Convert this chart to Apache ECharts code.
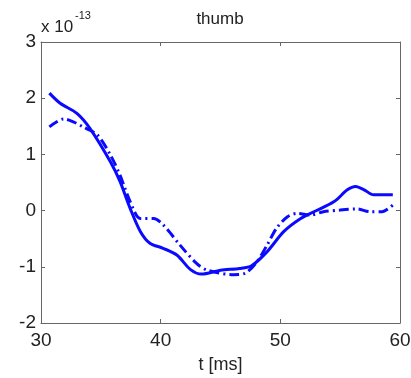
<!DOCTYPE html>
<html>
<head>
<meta charset="utf-8">
<script src="https://cdn.jsdelivr.net/npm/echarts@6/dist/echarts.min.js"></script>
<style>
  html, body { margin: 0; padding: 0; background: #fff; }
  #chart { width: 411px; height: 378px; }
</style>
</head>
<body>
<div id="chart"></div>
<script>
// Signal amplitude (units of 1e-13) against time in ms
const solidT = [30.7, 31.6, 33.0, 34.1, 35.8, 36.6, 37.45, 38.3, 39.1, 40.2, 41.35, 42.5, 43.4, 45.0, 46.6, 47.6, 48.9, 50.3, 51.7, 52.8, 54.5, 55.6, 56.3, 57.0, 57.8, 59.4];
const solidV = [2.09, 1.91, 1.73, 1.46, 0.87, 0.52, 0.04, -0.37, -0.58, -0.67, -0.79, -1.05, -1.13, -1.06, -1.03, -0.98, -0.73, -0.37, -0.14, -0.02, 0.16, 0.37, 0.43, 0.37, 0.28, 0.28];

const dashT = [30.7, 31.9, 32.7, 33.5, 34.7, 35.8, 36.6, 37.45, 38.3, 39.4, 40.2, 41.6, 43.0, 43.9, 46.1, 47.1, 48.05, 48.9, 49.7, 50.6, 51.4, 52.5, 53.6, 55.0, 56.4, 57.5, 58.5, 59.4];
const dashV = [1.49, 1.63, 1.58, 1.49, 1.35, 0.99, 0.63, 0.16, -0.14, -0.14, -0.25, -0.61, -0.94, -1.06, -1.14, -1.11, -0.91, -0.61, -0.31, -0.11, -0.05, -0.08, -0.02, 0.01, 0.03, -0.02, -0.02, 0.10];

const xTicks = [30, 40, 50, 60];
const yTicks = [-2, -1, 0, 1, 2, 3];

const titleText = 'thumb';
const xLabel = 't [ms]';
const scaleBase = 'x 10';
const scaleExp = '-13';

const pair = (ts, vs) => ts.map((t, i) => [t, vs[i]]);

const font = 'Liberation Sans, Arial, sans-serif';
const axisCol = '#666';
const textCol = '#222';
const lineCol = '#0a0aff';

const chart = echarts.init(document.getElementById('chart'));

const baseAxisLine = { show: true, onZero: false, lineStyle: { color: axisCol, width: 1 } };
const tickIn = { show: true, inside: true, length: 4, lineStyle: { color: axisCol } };

chart.setOption({
  animation: false,
  backgroundColor: '#fff',
  grid: { left: 41, right: 11, top: 42, bottom: 55, containLabel: false, outerBoundsMode: 'none' },
  xAxis: [
    {
      type: 'value', position: 'bottom',
      min: xTicks[0], max: xTicks[xTicks.length - 1], interval: 10,
      axisLine: baseAxisLine, axisTick: tickIn, splitLine: { show: false },
      axisLabel: { fontFamily: font, fontSize: 19, color: textCol, margin: 8 },
      name: xLabel, nameLocation: 'middle', nameGap: 33,
      nameTextStyle: { fontFamily: font, fontSize: 18, color: textCol }
    },
    {
      type: 'value', position: 'top',
      min: xTicks[0], max: xTicks[xTicks.length - 1], interval: 10,
      axisLine: baseAxisLine, axisTick: tickIn, splitLine: { show: false },
      axisLabel: { show: false }
    }
  ],
  yAxis: [
    {
      type: 'value', position: 'left',
      min: yTicks[0], max: yTicks[yTicks.length - 1], interval: 1,
      axisLine: baseAxisLine, axisTick: tickIn, splitLine: { show: false },
      axisLabel: { fontFamily: font, fontSize: 19, color: textCol, margin: 5 }
    },
    {
      type: 'value', position: 'right',
      min: yTicks[0], max: yTicks[yTicks.length - 1], interval: 1,
      axisLine: baseAxisLine, axisTick: tickIn, splitLine: { show: false },
      axisLabel: { show: false }
    }
  ],
  graphic: [
    {
      type: 'text', x: 220, y: 19,
      style: { text: titleText, fontFamily: font, fontSize: 17, fill: textCol, align: 'center', verticalAlign: 'middle' }
    },
    {
      type: 'text', x: 41, y: 27,
      style: { text: scaleBase, fontFamily: font, fontSize: 17, fill: textCol, align: 'left', verticalAlign: 'middle' }
    },
    {
      type: 'text', x: 75, y: 16,
      style: { text: scaleExp, fontFamily: font, fontSize: 11, fill: textCol, align: 'left', verticalAlign: 'middle' }
    }
  ],
  series: [
    {
      type: 'line', data: pair(solidT, solidV), smooth: 0.3, showSymbol: false,
      lineStyle: { color: lineCol, width: 3 }
    },
    {
      type: 'line', data: pair(dashT, dashV), smooth: 0.3, showSymbol: false,
      lineStyle: { color: lineCol, width: 3, type: [10, 4, 2, 4] }
    }
  ]
});
</script>
</body>
</html>
